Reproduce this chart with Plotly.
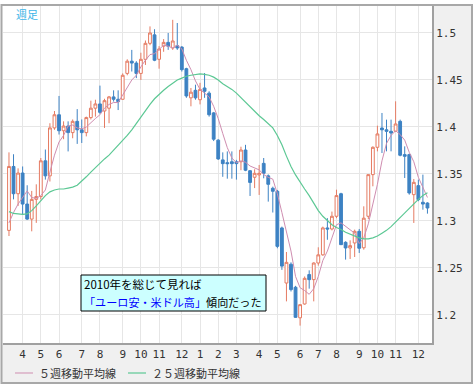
import pandas as pd
import plotly.graph_objects as go

# weekly candles (week starting Monday)
weeks = pd.date_range("2009-03-16", periods=93, freq="7D")

opens = [1.290, 1.358, 1.329, 1.351, 1.318, 1.302, 1.323, 1.326, 1.364, 1.348,
         1.399, 1.413, 1.396, 1.401, 1.394, 1.406, 1.397, 1.394, 1.410, 1.420,
         1.4245, 1.417, 1.420, 1.432, 1.4295, 1.4295, 1.457, 1.470, 1.468, 1.457,
         1.472, 1.489, 1.498, 1.472, 1.486, 1.490, 1.484, 1.4865, 1.485, 1.462,
         1.431, 1.439, 1.429, 1.4415, 1.436, 1.415, 1.386, 1.365, 1.362, 1.363,
         1.363, 1.363, 1.3755, 1.3535, 1.3465, 1.349, 1.3613, 1.348, 1.3348, 1.3316,
         1.2926, 1.234, 1.254, 1.2295, 1.197, 1.2117, 1.243, 1.2376, 1.2553, 1.264,
         1.2926, 1.2915, 1.305, 1.329, 1.2773, 1.2713, 1.2766, 1.289, 1.2715, 1.305,
         1.3493, 1.3784, 1.3989, 1.397, 1.3954, 1.3954, 1.406, 1.3706, 1.3706, 1.328,
         1.3376, 1.3199, 1.3191]
highs = [1.373, 1.371, 1.356, 1.358, 1.338, 1.332, 1.339, 1.367, 1.376, 1.404,
         1.417, 1.433, 1.406, 1.406, 1.408, 1.419, 1.408, 1.411, 1.428, 1.429,
         1.444, 1.430, 1.433, 1.439, 1.439, 1.457, 1.472, 1.482, 1.470, 1.479,
         1.492, 1.507, 1.504, 1.486, 1.4935, 1.500, 1.514, 1.5106, 1.486, 1.463,
         1.4415, 1.445, 1.447, 1.4574, 1.438, 1.416, 1.387, 1.373, 1.374, 1.374,
         1.365, 1.379, 1.381, 1.354, 1.355, 1.3596, 1.367, 1.3495, 1.3365, 1.333,
         1.294, 1.267, 1.256, 1.231, 1.211, 1.241, 1.2475, 1.256, 1.272, 1.294,
         1.303, 1.310, 1.3333, 1.330, 1.2784, 1.2794, 1.2908, 1.2915, 1.3156, 1.3493,
         1.3794, 1.4014, 1.4149, 1.4078, 1.4078, 1.4273, 1.4078, 1.3794, 1.3716, 1.3447,
         1.344, 1.3493, 1.3199]
lows = [1.284, 1.323, 1.316, 1.307, 1.301, 1.289, 1.298, 1.323, 1.344, 1.342,
        1.397, 1.392, 1.387, 1.374, 1.388, 1.382, 1.383, 1.390, 1.408, 1.411,
        1.414, 1.399, 1.404, 1.427, 1.418, 1.429, 1.455, 1.459, 1.452, 1.450,
        1.466, 1.487, 1.470, 1.462, 1.480, 1.482, 1.482, 1.482, 1.459, 1.431,
        1.422, 1.429, 1.424, 1.431, 1.411, 1.385, 1.365, 1.347, 1.345, 1.345,
        1.344, 1.354, 1.353, 1.3266, 1.335, 1.3277, 1.3454, 1.3206, 1.309, 1.271,
        1.248, 1.2145, 1.225, 1.197, 1.1887, 1.211, 1.228, 1.2145, 1.2525, 1.263,
        1.280, 1.290, 1.303, 1.2745, 1.2589, 1.2596, 1.2617, 1.266, 1.2695, 1.302,
        1.3369, 1.3741, 1.3723, 1.3741, 1.3741, 1.3954, 1.3688, 1.3457, 1.328, 1.2979,
        1.321, 1.312, 1.3078]
closes = [1.358, 1.329, 1.351, 1.318, 1.302, 1.323, 1.326, 1.364, 1.348, 1.399,
          1.413, 1.396, 1.401, 1.394, 1.406, 1.397, 1.394, 1.410, 1.420, 1.4245,
          1.4156, 1.428, 1.432, 1.4295, 1.427, 1.455, 1.470, 1.468, 1.457, 1.472,
          1.489, 1.500, 1.471, 1.483, 1.490, 1.486, 1.4915, 1.484, 1.461, 1.433,
          1.437, 1.431, 1.440, 1.438, 1.413, 1.387, 1.366, 1.361, 1.361, 1.361,
          1.361, 1.3755, 1.354, 1.341, 1.3507, 1.3507, 1.3507, 1.339, 1.3316, 1.273,
          1.252, 1.256, 1.227, 1.1975, 1.211, 1.239, 1.2376, 1.2553, 1.264, 1.2926,
          1.2915, 1.305, 1.327, 1.2748, 1.2713, 1.2738, 1.289, 1.271, 1.303, 1.3493,
          1.3784, 1.3926, 1.397, 1.3954, 1.3936, 1.4032, 1.3699, 1.3688, 1.3298, 1.3411,
          1.3227, 1.318, 1.3138]
ma5 = [1.298, 1.309, 1.318, 1.325, 1.332, 1.325, 1.324, 1.327, 1.333, 1.352,
       1.370, 1.384, 1.391, 1.401, 1.402, 1.399, 1.398, 1.400, 1.405, 1.409,
       1.413, 1.420, 1.424, 1.426, 1.426, 1.434, 1.443, 1.450, 1.455, 1.464,
       1.471, 1.477, 1.478, 1.483, 1.487, 1.486, 1.484, 1.487, 1.483, 1.471,
       1.461, 1.449, 1.440, 1.436, 1.432, 1.422, 1.409, 1.393, 1.378, 1.367,
       1.362, 1.364, 1.3625, 1.3585, 1.3564, 1.3544, 1.3494, 1.3464, 1.3445, 1.329,
       1.309, 1.290, 1.268, 1.241, 1.229, 1.226, 1.222, 1.228, 1.241, 1.258,
       1.268, 1.282, 1.296, 1.298, 1.294, 1.290, 1.287, 1.276, 1.282, 1.297,
       1.318, 1.339, 1.364, 1.3825, 1.391, 1.396, 1.392, 1.386, 1.373, 1.363,
       1.3465, 1.336, 1.325]
ma25 = [1.310, 1.308, 1.3075, 1.307, 1.3075, 1.311, 1.316, 1.322, 1.327, 1.331,
        1.333, 1.334, 1.334, 1.335, 1.336, 1.338, 1.342, 1.347, 1.352, 1.357,
        1.361, 1.366, 1.370, 1.375, 1.380, 1.386, 1.391, 1.397, 1.404, 1.411,
        1.418, 1.424, 1.430, 1.435, 1.439, 1.443, 1.447, 1.450, 1.452, 1.454,
        1.455, 1.456, 1.4565, 1.456, 1.455, 1.453, 1.450, 1.446, 1.443, 1.440,
        1.436, 1.431, 1.426, 1.421, 1.416, 1.412, 1.408, 1.404, 1.399, 1.391,
        1.381, 1.369, 1.358, 1.349, 1.341, 1.334, 1.327, 1.319, 1.311, 1.305,
        1.300, 1.296, 1.293, 1.291, 1.288, 1.286, 1.284, 1.282, 1.281, 1.281,
        1.282, 1.284, 1.287, 1.290, 1.294, 1.299, 1.303, 1.308, 1.313, 1.318,
        1.323, 1.327, 1.330]

month_ticks = ["2009-04-06", "2009-05-04", "2009-06-01", "2009-07-06", "2009-08-03",
               "2009-09-07", "2009-10-05", "2009-11-02", "2009-12-07", "2010-01-04",
               "2010-02-01", "2010-03-01", "2010-04-05", "2010-05-03", "2010-06-07",
               "2010-07-05", "2010-08-02", "2010-09-06", "2010-10-04", "2010-11-01",
               "2010-12-06"]
month_labels = ["4", "5", "6", "7", "8", "9", "10", "11", "12", "1",
                "2", "3", "4", "5", "6", "7", "8", "9", "10", "11", "12"]
y_ticks = [1.2, 1.25, 1.3, 1.35, 1.4, 1.45, 1.5]
y_labels = ["1.2", "1.25", "1.3", "1.35", "1.4", "1.45", "1.5"]

legend_names = ["５週移動平均線", "２５週移動平均線"]
note_line1 = "2010年を総じて見れば"
note_blue = "「ユーロ安・米ドル高」"
note_rest = "傾向だった"
chart_label = "週足"

UP = "#E57B62"
DOWN = "#3D82C3"
C_MA5 = "#CF8DB0"
C_MA25 = "#5CC894"
JP = "Noto Sans CJK JP"
MONO = "DejaVu Sans Mono"

fig = go.Figure()
fig.add_trace(go.Candlestick(
    x=weeks, open=opens, high=highs, low=lows, close=closes,
    increasing=dict(line=dict(color=UP, width=1), fillcolor="#FFFFFF"),
    decreasing=dict(line=dict(color=DOWN, width=1), fillcolor=DOWN),
    whiskerwidth=0, showlegend=False, name="EUR/USD"))
fig.add_trace(go.Scatter(x=weeks, y=ma5, mode="lines", name=legend_names[0],
                         line=dict(color=C_MA5, width=1), showlegend=False))
fig.add_trace(go.Scatter(x=weeks, y=ma25, mode="lines", name=legend_names[1],
                         line=dict(color=C_MA25, width=1.2), showlegend=False))

# plot area: x 3..432 px, y 6..343 px
L, R, T, B = 3, 432, 6, 343
W, H = R - L, B - T
def px(x):
    return (x - L) / W
def py(y):
    return (B - y) / H

shapes = [
    dict(type="rect", xref="paper", yref="paper", x0=1.0, x1=px(472), y0=py(383), y1=py(5),
         fillcolor="#F0F0F0", line=dict(width=0), layer="below"),
    dict(type="rect", xref="paper", yref="paper", x0=px(1.5), x1=1.0, y0=py(383), y1=0,
         fillcolor="#F0F0F0", line=dict(width=0), layer="below"),
    dict(type="rect", xref="paper", yref="paper", x0=px(1.5), x1=px(472), y0=py(383), y1=py(5),
         line=dict(color="#A8A8A8", width=2), fillcolor="rgba(0,0,0,0)"),
    dict(type="rect", xref="paper", yref="paper", x0=px(81), x1=px(266), y0=py(311), y1=py(275),
         fillcolor="#CCFFFF", line=dict(color="#000000", width=1)),
    dict(type="line", xref="paper", yref="paper", x0=px(15), x1=px(33), y0=py(373), y1=py(373),
         line=dict(color=C_MA5, width=1)),
    dict(type="line", xref="paper", yref="paper", x0=px(128), x1=px(146), y0=py(373), y1=py(373),
         line=dict(color=C_MA25, width=1.2)),
]

annotations = [
    dict(xref="paper", yref="paper", x=px(14), y=py(14), text=chart_label, showarrow=False,
         xanchor="left", yanchor="middle", font=dict(family=JP, size=11, color="#3DB5E8")),
    dict(xref="paper", yref="paper", x=px(81.5), y=py(284), text=note_line1, showarrow=False,
         xanchor="left", yanchor="middle", font=dict(family=JP, size=11.5, color="#000000")),
    dict(xref="paper", yref="paper", x=px(81.5), y=py(301.5),
         text='<span style="color:#0000FF">' + note_blue + '</span>' + note_rest,
         showarrow=False, xanchor="left", yanchor="middle",
         font=dict(family=JP, size=11.1, color="#000000")),
    dict(xref="paper", yref="paper", x=px(37), y=py(373), text=legend_names[0], showarrow=False,
         xanchor="left", yanchor="middle", font=dict(family=JP, size=11, color="#333333")),
    dict(xref="paper", yref="paper", x=px(150), y=py(373), text=legend_names[1], showarrow=False,
         xanchor="left", yanchor="middle", font=dict(family=JP, size=11, color="#333333")),
]

fig.update_layout(
    width=476, height=387,
    margin=dict(l=L, r=476 - R, t=T, b=387 - B),
    paper_bgcolor="#FFFFFF", plot_bgcolor="#FFFFFF",
    shapes=shapes, annotations=annotations,
    showlegend=False, boxgap=0.12,
    xaxis=dict(type="date", range=["2009-03-06 19:00", "2010-12-27 00:00"],
               tickmode="array", tickvals=month_ticks, ticktext=month_labels,
               showgrid=True, gridcolor="#E6E6E6", gridwidth=1,
               showline=True, linecolor="#A0A0A0", linewidth=2, ticks="",
               zeroline=False, rangeslider=dict(visible=False),
               tickfont=dict(family=MONO, size=11, color="#333333")),
    yaxis=dict(side="right", range=[1.1702, 1.5287],
               tickmode="array", tickvals=y_ticks, ticktext=y_labels,
               showgrid=True, gridcolor="#E6E6E6", gridwidth=1,
               showline=True, linecolor="#A0A0A0", linewidth=2, ticks="",
               zeroline=False,
               tickfont=dict(family=MONO, size=11, color="#333333")),
)

fig.write_html("out.html", config={"displayModeBar": False},
               post_script="document.body.style.margin='0';document.body.style.padding='0';")
